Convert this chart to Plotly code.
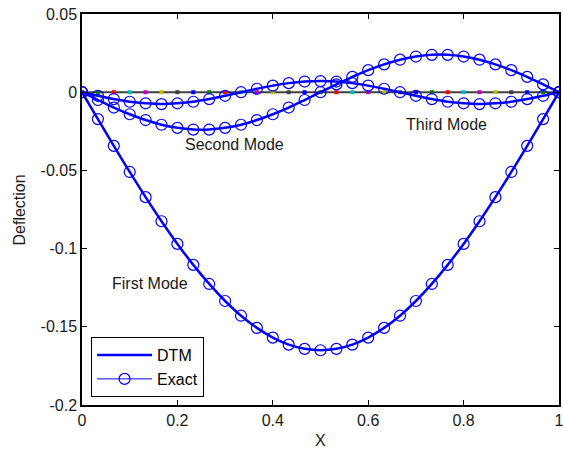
import plotly.graph_objects as go

# sample positions (x = k/30)
x_pts = [k / 30 for k in range(31)]

first_mode = [0, -0.0172, -0.0343, -0.0510, -0.0671, -0.0825, -0.0970, -0.1104,
              -0.1226, -0.1335, -0.1429, -0.1507, -0.1569, -0.1614, -0.1641, -0.1650,
              -0.1641, -0.1614, -0.1569, -0.1507, -0.1429, -0.1335, -0.1226, -0.1104,
              -0.0970, -0.0825, -0.0671, -0.0510, -0.0343, -0.0172, 0]

second_mode = [0, -0.0050, -0.0098, -0.0141, -0.0178, -0.0208, -0.0228, -0.0239,
               -0.0239, -0.0228, -0.0208, -0.0178, -0.0141, -0.0098, -0.0050, 0,
               0.0050, 0.0098, 0.0141, 0.0178, 0.0208, 0.0228, 0.0239,
               0.0239, 0.0228, 0.0208, 0.0178, 0.0141, 0.0098, 0.0050, 0]

third_mode = [0, -0.0023, -0.0044, -0.0061, -0.0071, -0.0076, -0.0071, -0.0061,
              -0.0044, -0.0023, 0, 0.0022, 0.0042, 0.0058, 0.0068, 0.0071,
              0.0068, 0.0058, 0.0042, 0.0022, 0, -0.0023, -0.0044, -0.0061,
              -0.0071, -0.0076, -0.0071, -0.0061, -0.0044, -0.0023, 0]

zero_line = [0] * 31

# MATLAB classic color order for the zero-line dots
dot_cycle = ["#0000ff", "#008000", "#ff0000", "#00bfbf", "#bf00bf", "#bfbf00", "#404040"]
dot_colors = [dot_cycle[k % 7] for k in range(31)]

modes = [first_mode, second_mode, third_mode]
labels = [("First Mode", 0.142, -0.1225), ("Second Mode", 0.32, -0.0335), ("Third Mode", 0.765, -0.0205)]

FONT = "Arial, Liberation Sans, sans-serif"

fig = go.Figure()

# zero line and coloured dots
fig.add_trace(go.Scatter(x=[x_pts[0], x_pts[-1]], y=[0, 0], mode="lines",
                         line=dict(color="#404040", width=2), showlegend=False, hoverinfo="skip"))
fig.add_trace(go.Scatter(x=x_pts, y=zero_line, mode="markers",
                         marker=dict(symbol="square", size=4, color=dot_colors, line=dict(width=0)),
                         showlegend=False))

for i, m in enumerate(modes):
    fig.add_trace(go.Scatter(x=x_pts, y=m, mode="lines", name="DTM",
                             line=dict(color="#0000ff", width=2.5, shape="spline"),
                             legendgroup="dtm", showlegend=(i == 0)))
for i, m in enumerate(modes):
    fig.add_trace(go.Scatter(x=x_pts, y=m, mode="lines+markers", name="Exact",
                             line=dict(color="#0000ff", width=1),
                             marker=dict(symbol="circle-open", size=11, color="#0000ff",
                                         line=dict(width=1.2, color="#0000ff")),
                             legendgroup="exact", showlegend=(i == 0)))

for text, lx, ly in labels:
    fig.add_annotation(x=lx, y=ly, text=text, showarrow=False,
                       font=dict(family=FONT, size=16, color="#1a1a1a"))

# axis titles
fig.add_annotation(x=0.5, y=-0.092, xref="paper", yref="paper", text="X", showarrow=False,
                   xanchor="center", yanchor="middle",
                   font=dict(family=FONT, size=16, color="#1a1a1a"))
fig.add_annotation(x=-0.13, y=0.5, xref="paper", yref="paper", text="Deflection", showarrow=False,
                   textangle=-90, xanchor="center", yanchor="middle",
                   font=dict(family=FONT, size=16, color="#1a1a1a"))

axis_common = dict(showgrid=False, zeroline=False, showline=True, linecolor="black",
                   linewidth=1.5, mirror="ticks", ticks="inside", ticklen=5,
                   tickcolor="black", automargin=False, ticklabeloverflow="allow",
                   tickfont=dict(family=FONT, size=16, color="#1a1a1a"))

fig.update_xaxes(range=[0, 1], tickvals=[0, 0.2, 0.4, 0.6, 0.8, 1],
                 ticktext=["0", "0.2", "0.4", "0.6", "0.8", "1"],
                 **axis_common)
fig.update_yaxes(range=[-0.2, 0.05], tickvals=[-0.2, -0.15, -0.1, -0.05, 0, 0.05],
                 ticktext=["-0.2", "-0.15", "-0.1", "-0.05", "0", "0.05"],
                 **axis_common)

fig.update_layout(
    width=563, height=451,
    margin=dict(l=82, r=4, t=14, b=46),
    paper_bgcolor="white", plot_bgcolor="white",
    showlegend=True,
    legend=dict(x=0.019, y=0.02, xanchor="left", yanchor="bottom",
                bgcolor="white", bordercolor="black", borderwidth=1,
                font=dict(family=FONT, size=16, color="black"),
                itemwidth=55, tracegroupgap=0),
)

fig.write_html("out.html", config={"displayModeBar": False},
               post_script="document.body.style.margin='0';document.body.style.overflow='hidden';")
